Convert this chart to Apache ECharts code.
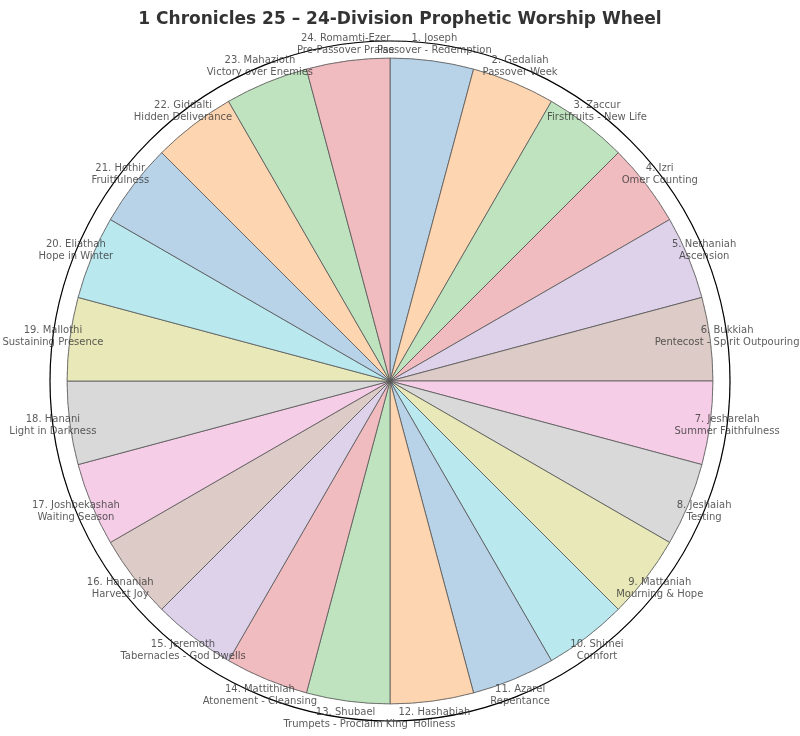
<!DOCTYPE html><html><head><meta charset="utf-8"><script src="https://cdn.jsdelivr.net/npm/echarts@6/dist/echarts.min.js"></script></head><body style="margin:0"><div id="c" style="width:800px;height:736px"></div><script>
const names=["1. Joseph","2. Gedaliah","3. Zaccur","4. Izri","5. Nethaniah","6. Bukkiah","7. Jesharelah","8. Jeshaiah","9. Mattaniah","10. Shimei","11. Azarel","12. Hashabiah","13. Shubael","14. Mattithiah","15. Jeremoth","16. Hananiah","17. Joshbekashah","18. Hanani","19. Mallothi","20. Eliathah","21. Hothir","22. Giddalti","23. Mahazioth","24. Romamti-Ezer"];
const themes=["Passover - Redemption","Passover Week","Firstfruits - New Life","Omer Counting","Ascension","Pentecost - Spirit Outpouring","Summer Faithfulness","Testing","Mourning & Hope","Comfort","Repentance","Holiness","Trumpets - Proclaim King","Atonement - Cleansing","Tabernacles - God Dwells","Harvest Joy","Waiting Season","Light in Darkness","Sustaining Presence","Hope in Winter","Fruitfulness","Hidden Deliverance","Victory over Enemies","Pre-Passover Praise"];
const values=names.map(()=>1);
const palette=["#b8d3e8","#fdd5b0","#bfe3bf","#f0bcc0","#ddd2e9","#dccbc6","#f5cde6","#d9d9d9","#e8e8b9","#b9e8ef"];
const RMAX=1.053;
const chart=echarts.init(document.getElementById('c'));
chart.setOption({
title:{text:"1 Chronicles 25 \u2013 24-Division Prophetic Worship Wheel",left:'center',top:6,textStyle:{fontSize:17,fontWeight:'bold',color:'#333',fontFamily:'DejaVu Sans'}},
polar:{center:[390,381],radius:340},
angleAxis:{type:'category',data:names,startAngle:90,clockwise:true,axisLine:{show:true,lineStyle:{color:'#000',width:1.2}},axisTick:{show:false},axisLabel:{show:false},splitLine:{show:false}},
radiusAxis:{min:0,max:RMAX,interval:0.2,axisLine:{show:false},axisTick:{show:false},axisLabel:{show:false},splitLine:{show:true,lineStyle:{type:'dashed',color:'#ccc'}}},
series:[{type:'bar',coordinateSystem:'polar',data:values.map((v,i)=>({value:v,itemStyle:{color:palette[i%10]}})),barCategoryGap:'0%',itemStyle:{borderColor:'#555',borderWidth:0.8}},
{type:'scatter',coordinateSystem:'polar',symbolSize:0,data:names.map(()=>RMAX),silent:true,
label:{show:true,position:'inside',formatter:p=>names[p.dataIndex]+"\n"+themes[p.dataIndex],fontSize:10,lineHeight:12,color:'#333',fontFamily:'DejaVu Sans',align:'center'}}]
});
</script></body></html>
